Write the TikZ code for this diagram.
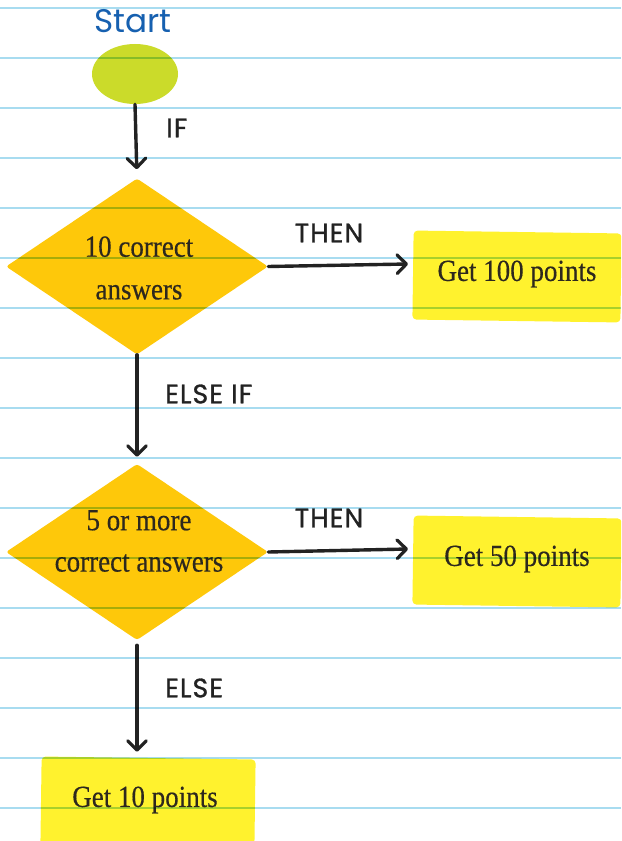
\documentclass[tikz,border=0pt]{standalone}
\usepackage{fontspec}
\setmainfont{Liberation Serif}
\newfontfamily\boxfont[FakeStretch=0.88,FakeBold=0.4]{Liberation Serif}
\newfontfamily\labelfont[FakeBold=1.2,LetterSpace=4]{Poppins}
\newfontfamily\startfont{Poppins}
\usetikzlibrary{shapes.geometric,arrows.meta,calc}
\definecolor{paperline}{RGB}{168,220,240}
\definecolor{startblue}{RGB}{22,96,176}
\definecolor{startgreen}{RGB}{203,219,42}
\definecolor{diamondorange}{RGB}{254,200,10}
\definecolor{boxyellow}{RGB}{255,242,46}
\definecolor{ink}{RGB}{34,34,34}
\definecolor{boxink}{RGB}{45,40,30}
\tikzset{
  arr/.style={draw=ink,line width=3.4*0.75pt,line cap=round,
    -{Straight Barb[length=7pt,width=14pt,line width=3.2*0.75pt,round]}},
  decision/.style={diamond,fill=diamondorange,draw=none,inner sep=0pt,
    minimum width=262*0.75pt,minimum height=176*0.75pt,aspect=1.5,rounded corners=2pt},
  resultbox/.style={fill=boxyellow,draw=none,rounded corners=3pt,inner sep=0pt},
  boxtext/.style={font=\boxfont\fontsize{23pt}{30pt}\selectfont,text=boxink,align=center},
  flowlabel/.style={font=\labelfont\fontsize{20pt}{24pt}\selectfont,text=ink,inner sep=0pt},
}
\begin{document}
\begin{tikzpicture}[x=0.75pt,y=-0.75pt]
\useasboundingbox (0,0) rectangle (621,841);
\clip (0,0) rectangle (621,841);
\fill[white] (0,0) rectangle (621,841);

% start
\node[font=\startfont\fontsize{24.5pt}{28pt}\selectfont,text=startblue,inner sep=0pt] (st) at (133,21) {Start};
\node[ellipse,fill=startgreen,minimum width=86*0.75pt,minimum height=60*0.75pt,inner sep=0pt] (e) at (135,74) {};

% decisions
\node[decision] (d1) at (137,266.5) {};
\node[boxtext,font=\boxfont\fontsize{23pt}{32pt}\selectfont] (d1t) at (139,268) {10 correct\\answers};
\node[decision] (d2) at (137,552) {};
\node[boxtext,font=\boxfont\fontsize{23pt}{31pt}\selectfont] (d2t) at (139,541) {5 or more\\correct answers};

% results
\node[resultbox,minimum width=208*0.75pt,minimum height=89*0.75pt,rotate=-0.8] (b1) at (517,276.5) {};
\node[boxtext] (b1t) at (517,274) {Get 100 points};
\node[resultbox,minimum width=208*0.75pt,minimum height=89*0.75pt,rotate=-0.8] (b2) at (517,561.5) {};
\node[boxtext] (b2t) at (517,559) {Get 50 points};
\node[resultbox,minimum width=214*0.75pt,minimum height=90*0.75pt,rotate=-0.8] (b3) at (148,803) {};
\node[boxtext] (b3t) at (145,800) {Get 10 points};

% connectors
\coordinate (t1) at (408,264);
\coordinate (t2) at (408,549);
\draw[arr,shorten >=9*0.75pt] (e.south) -- (d1.north);
\draw[arr] (d1.east) -- (t1);
\draw[arr,shorten >=7*0.75pt] (d1.south) -- (d2.north);
\draw[arr] (d2.east) -- (t2);
\draw[arr,shorten <=5*0.75pt,shorten >=6*0.75pt] (d2.south) -- (d2.south |- b3.north);

% labels
\node[flowlabel,anchor=west] (lif) at (166,128) {IF};
\node[flowlabel] (lthen1) at (329,233) {THEN};
\node[flowlabel,anchor=west] (lelseif) at (165,394) {ELSE IF};
\node[flowlabel] (lthen2) at (329,518) {THEN};
\node[flowlabel,anchor=west] (lelse) at (165,688) {ELSE};

% ruled paper lines
\begin{scope}[blend mode=multiply]
\foreach \yy in {8,58,...,808}
  \draw[paperline,line width=1.5pt] (0,\yy) -- (621,\yy);
\end{scope}
\end{tikzpicture}
\end{document}
